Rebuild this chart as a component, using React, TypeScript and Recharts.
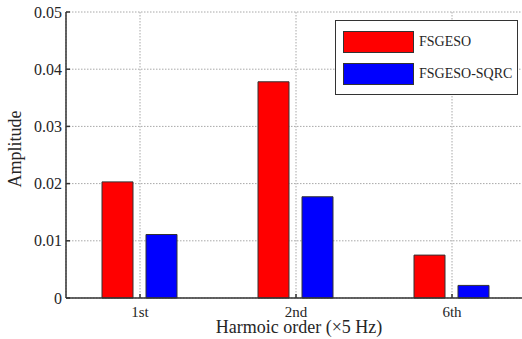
import { BarChart, Bar, XAxis, YAxis, CartesianGrid, Legend } from "recharts";

const categories = ["1st", "2nd", "6th"];
const categoryX = [1, 2, 3];
const fsgeso = [0.0203, 0.0378, 0.0075];
const fsgesoSqrc = [0.0111, 0.0177, 0.0022];
const yTicks = [0, 0.01, 0.02, 0.03, 0.04, 0.05];

const data = categories.map((c, i) => ({
  x: categoryX[i],
  name: c,
  fsgeso: fsgeso[i],
  sqrc: fsgesoSqrc[i],
}));

const FONT = "Liberation Serif";
const INK = "#262626";
const AXIS = "#333333";
const xDomain = [0.5256, 3.4551];

function LegendBox(props: any) {
  const items = props.payload || [];
  return (
    <div
      style={{
        position: "relative",
        width: 183,
        height: 75,
        boxSizing: "border-box",
        border: `1px solid ${AXIS}`,
        background: "#fff",
        fontFamily: FONT,
        fontSize: 14,
        color: INK,
      }}
    >
      {items.map((it: any, i: number) => (
        <div key={it.value}>
          <div
            style={{
              position: "absolute",
              left: 7,
              top: 10 + i * 31.5,
              width: 71,
              height: 22,
              boxSizing: "border-box",
              background: it.color,
              border: `1px solid ${AXIS}`,
            }}
          />
          <div
            style={{
              position: "absolute",
              left: 83,
              top: 12 + i * 31.5,
              lineHeight: "18px",
              whiteSpace: "nowrap",
            }}
          >
            {it.value}
          </div>
        </div>
      ))}
    </div>
  );
}

// tick text drawn by hand so the serif font is applied for sure
function TickText(props: any) {
  const { x, y, payload, textAnchor, fmt, dy, size } = props;
  return (
    <text
      x={x}
      y={y}
      dy={dy}
      textAnchor={textAnchor}
      fontFamily={FONT}
      fontSize={size}
      fill={INK}
    >
      {fmt(payload.value)}
    </text>
  );
}

export default function App() {
  return (
    <div
      style={{
        position: "absolute",
        left: 0,
        top: 0,
        width: 522,
        height: 339,
        overflow: "hidden",
        background: "#fff",
        fontFamily: FONT,
      }}
    >
      <BarChart
        width={524}
        height={339}
        data={data}
        margin={{ top: 12, right: 1, bottom: 0, left: 0 }}
        barSize={31}
        barGap={13}
        style={{ fontFamily: FONT }}
      >
        <CartesianGrid stroke="#a8a8a8" strokeDasharray="1.5 1.5" />
        <XAxis
          dataKey="x"
          type="number"
          domain={xDomain}
          allowDataOverflow
          ticks={categoryX}
          height={41}
          tickSize={-4}
          tickMargin={12}
          tick={(p: any) => (
            <TickText {...p} size={15} dy={10.5} fmt={(v: number) => categories[v - 1] ?? ""} />
          )}
          axisLine={{ stroke: AXIS, strokeWidth: 1.5 }}
          tickLine={{ stroke: AXIS, strokeWidth: 1.5 }}
          label={{
            content: () => (
              <text
                x={299}
                y={333}
                textAnchor="middle"
                fontFamily={FONT}
                fontSize={18}
                fill={INK}
              >
                Harmoic order (×5 Hz)
              </text>
            ),
          }}
        />
        <XAxis
          xAxisId="top"
          orientation="top"
          type="number"
          domain={xDomain}
          allowDataOverflow
          ticks={categoryX}
          tick={false}
          height={0}
          tickSize={-4}
          axisLine={{ stroke: AXIS, strokeWidth: 1.5 }}
          tickLine={{ stroke: AXIS, strokeWidth: 1.5 }}
        />
        <YAxis
          type="number"
          domain={[0, 0.05]}
          ticks={yTicks}
          interval={0}
          width={66}
          tickSize={-4}
          tickMargin={8}
          tick={(p: any) => (
            <TickText {...p} size={16} dy={5.5} fmt={(v: number) => String(v)} />
          )}
          axisLine={{ stroke: AXIS, strokeWidth: 1.5 }}
          tickLine={{ stroke: AXIS, strokeWidth: 1.5 }}
          label={{
            content: () => (
              <text
                x={21}
                y={149}
                transform="rotate(-90 21 149)"
                textAnchor="middle"
                fontFamily={FONT}
                fontSize={18}
                fill={INK}
              >
                Amplitude
              </text>
            ),
          }}
        />
        <YAxis
          yAxisId="right"
          orientation="right"
          type="number"
          domain={[0, 0.05]}
          ticks={yTicks}
          interval={0}
          tick={false}
          width={0}
          tickSize={-5}
          axisLine={{ stroke: AXIS, strokeWidth: 1.5 }}
          tickLine={{ stroke: AXIS, strokeWidth: 1.5 }}
        />
        <Legend
          layout="horizontal"
          verticalAlign="middle"
          align="center"
          content={<LegendBox />}
          wrapperStyle={{ position: "absolute", left: 335, top: 20, width: 183, height: 75 }}
        />
        <Bar
          dataKey="fsgeso"
          name="FSGESO"
          fill="#ff0000"
          stroke={AXIS}
          strokeWidth={1}
          isAnimationActive={false}
        />
        <Bar
          dataKey="sqrc"
          name="FSGESO-SQRC"
          fill="#0000ff"
          stroke={AXIS}
          strokeWidth={1}
          isAnimationActive={false}
        />
      </BarChart>
    </div>
  );
}
